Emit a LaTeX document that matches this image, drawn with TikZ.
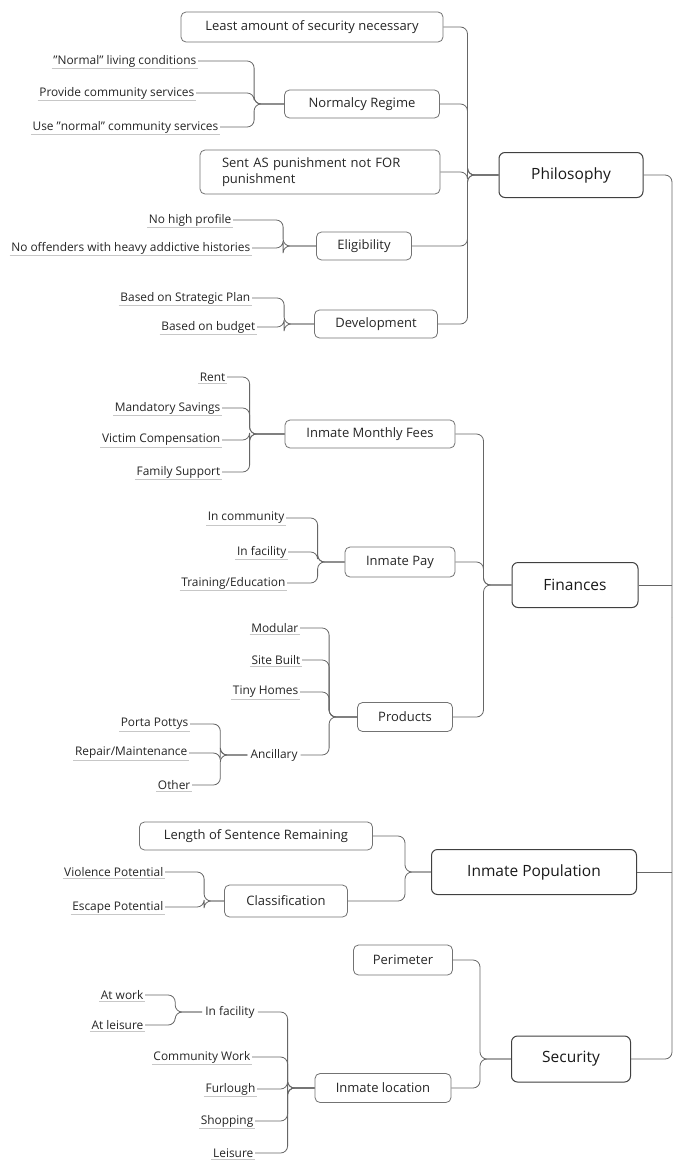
\documentclass[tikz,border=0pt]{standalone}
\usepackage{fontspec}
\setmainfont{Open Sans}
\usetikzlibrary{calc}
\newcommand{\dq}{\symbol{34}}
\tikzset{
  every node/.style={font=\fontsize{11.9}{14}\selectfont, text=black!85},
  mainbox/.style={draw=black!75, line width=1pt, rounded corners=6pt, font=\fontsize{15.5}{18}\selectfont, minimum height=45pt, text=black!90},
  subbox/.style={draw=black!55, line width=0.8pt, rounded corners=5pt, font=\fontsize{13}{15.5}\selectfont, minimum height=28pt},
  leaf/.style={anchor=east, inner sep=1.5pt},
  plain/.style={inner sep=3pt},
  conn/.style={draw=black!60, line width=0.8pt, rounded corners=7pt},
  uline/.style={draw=black!22, line width=0.5pt}
}
\begin{document}
\begin{tikzpicture}[x=1pt,y=-1pt]
\fill[white] (0,0) rectangle (677,1167);
\useasboundingbox (0,0) rectangle (677,1167);

% main topics
\node[mainbox, minimum width=144pt] (phil) at (571,175) {Philosophy};
\node[mainbox, minimum width=126pt] (fin) at (575,585) {Finances};
\node[mainbox, minimum width=205pt] (pop) at (534,872) {Inmate Population};
\node[mainbox, minimum width=119pt, minimum height=46pt] (sec) at (571,1059) {Security};
\coordinate (root) at (672,617);

% subtopics
\node[subbox, minimum width=262pt, minimum height=30pt] (least) at (312,27) {Least amount of security necessary};
\node[subbox, minimum width=155pt] (norm) at (362,104) {Normalcy Regime};
\node[subbox, minimum height=44pt, align=left, text width=196pt, inner xsep=22pt] (sent) at (320,172) {Sent AS punishment not FOR\\punishment};
\node[subbox, minimum width=95pt] (elig) at (364,246) {Eligibility};
\node[subbox, minimum width=123pt] (dev) at (376,324) {Development};
\node[subbox, minimum width=170pt] (imf) at (370,434) {Inmate Monthly Fees};
\node[subbox, minimum width=110pt, minimum height=30pt] (ipay) at (400,562) {Inmate Pay};
\node[subbox, minimum width=95pt, minimum height=29pt] (prod) at (405,717) {Products};
\node[plain] (anc) at (274,755) {Ancillary};
\node[subbox, minimum width=233pt] (lsr) at (256,836) {Length of Sentence Remaining};
\node[subbox, minimum width=123pt, minimum height=32pt] (class) at (286,901) {Classification};
\node[subbox, minimum width=99pt, minimum height=30pt] (perim) at (403,960) {Perimeter};
\node[subbox, minimum width=136pt, minimum height=29pt] (iloc) at (383,1088) {Inmate location};
\node[plain] (infac) at (230,1012) {In facility};

% leaves
\node[leaf] (nl) at (198,61) {\dq Normal\dq{} living conditions};
\node[leaf] (pcs) at (196,93) {Provide community services};
\node[leaf] (ucs) at (220,127) {Use \dq normal\dq{} community services};
\node[leaf] (nhp) at (233,220) {No high profile};
\node[leaf] (noh) at (252,248) {No offenders with heavy addictive histories};
\node[leaf] (bsp) at (252,298) {Based on Strategic Plan};
\node[leaf] (bob) at (257,327) {Based on budget};
\node[leaf] (rent) at (227,377) {Rent};
\node[leaf] (ms) at (222,408) {Mandatory Savings};
\node[leaf] (vc) at (222,440) {Victim Compensation};
\node[leaf] (fs) at (222,472) {Family Support};
\node[leaf] (ic) at (286,518) {In community};
\node[leaf] (ifa) at (288,552) {In facility};
\node[leaf] (te) at (287,583) {Training/Education};
\node[leaf] (mod) at (300,628) {Modular};
\node[leaf] (sb) at (302,660) {Site Built};
\node[leaf] (th) at (300,692) {Tiny Homes};
\node[leaf] (pp) at (190,724) {Porta Pottys};
\node[leaf] (rm) at (189,753) {Repair/Maintenance};
\node[leaf] (oth) at (192,785) {Other};
\node[leaf] (vp) at (165,872) {Violence Potential};
\node[leaf] (ep) at (165,907) {Escape Potential};
\node[leaf] (aw) at (145,995) {At work};
\node[leaf] (al) at (145,1025) {At leisure};
\node[leaf] (cw) at (252,1057) {Community Work};
\node[leaf] (fur) at (257,1089) {Furlough};
\node[leaf] (shop) at (255,1121) {Shopping};
\node[leaf] (leis) at (255,1153) {Leisure};

\foreach \n in {nl,pcs,ucs,nhp,noh,bsp,bob,rent,ms,vc,fs,ic,ifa,te,mod,sb,th,pp,rm,oth,vp,ep,aw,al,cw,fur,shop,leis}
  \draw[uline] (\n.south west) -- (\n.south east);

% connectors child -> parent
\foreach \c/\p/\d in {least/phil/31, norm/phil/31, sent/phil/31, elig/phil/31, dev/phil/31,
  nl/norm/30, pcs/norm/30, ucs/norm/30,
  nhp/elig/33, noh/elig/33,
  bsp/dev/30, bob/dev/30,
  imf/fin/28, ipay/fin/28, prod/fin/28,
  rent/imf/35, ms/imf/35, vc/imf/35, fs/imf/35,
  ic/ipay/27, ifa/ipay/27, te/ipay/27,
  mod/prod/28, sb/prod/28, th/prod/28, anc/prod/28,
  pp/anc/27, rm/anc/27, oth/anc/27,
  lsr/pop/26, class/pop/26,
  vp/class/20, ep/class/20,
  perim/sec/31, iloc/sec/31,
  infac/iloc/27, cw/iloc/27, fur/iloc/27, shop/iloc/27, leis/iloc/27,
  aw/infac/27, al/infac/27}
  \draw[conn] (\c.east) -| ([xshift=-\d pt]\p.west) -- (\p.west);

% main spine
\draw[conn] (phil.east) -| (root);
\draw[conn] (sec.east) -| (root);
\draw[conn] (fin.east) -- (fin.east -| root);
\draw[conn] (pop.east) -- (pop.east -| root);
\end{tikzpicture}
\end{document}
